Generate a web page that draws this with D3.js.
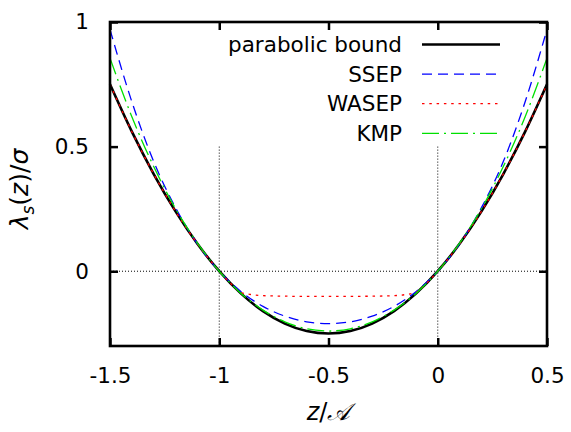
<!DOCTYPE html>
<html>
<head>
<meta charset="utf-8">
<script src="https://cdn.jsdelivr.net/npm/d3@7"></script>
<style>
  html, body { margin: 0; padding: 0; background: #fff; }
  svg { display: block; }
  text { font-family: "DejaVu Sans", sans-serif; fill: #000; }
</style>
</head>
<body>
<script>
// Scaled cumulant generating functions against z/A
const zGrid = [-1.5, -1.4, -1.3, -1.2, -1.1, -1.0, -0.9, -0.8, -0.7, -0.6, -0.5,
               -0.4, -0.3, -0.2, -0.1, 0.0, 0.1, 0.2, 0.3, 0.4, 0.5];
const parabolic = [0.75, 0.56, 0.39, 0.24, 0.11, 0.0, -0.09, -0.16, -0.21, -0.24, -0.25,
                   -0.24, -0.21, -0.16, -0.09, 0.0, 0.11, 0.24, 0.39, 0.56, 0.75];
const ssep = [0.97, 0.68, 0.44, 0.255, 0.11, 0.0, -0.082, -0.141, -0.18, -0.203, -0.21,
              -0.203, -0.18, -0.141, -0.082, 0.0, 0.11, 0.255, 0.44, 0.68, 0.97];
const kmp = [0.855, 0.62, 0.42, 0.251, 0.113, 0.0, -0.089, -0.156, -0.203, -0.231, -0.24,
             -0.231, -0.203, -0.156, -0.089, 0.0, 0.113, 0.251, 0.42, 0.62, 0.855];
const wasepZ = [-1.5, -1.4, -1.3, -1.2, -1.1, -1.0, -0.95, -0.9, -0.85, -0.8, -0.7, -0.6, -0.5,
                -0.4, -0.3, -0.2, -0.15, -0.1, -0.05, 0.0, 0.1, 0.2, 0.3, 0.4, 0.5];
const wasep = [0.75, 0.56, 0.39, 0.24, 0.11, 0.0, -0.047, -0.085, -0.094, -0.098, -0.1, -0.101, -0.101,
               -0.101, -0.1, -0.098, -0.094, -0.085, -0.047, 0.0, 0.11, 0.24, 0.39, 0.56, 0.75];

const xTicks = [-1.5, -1, -0.5, 0, 0.5];
const xTickLabels = ["-1.5", "-1", "-0.5", "0", "0.5"];
const yTicks = [0, 0.5, 1];
const yTickLabels = ["0", "0.5", "1"];

const series = [
  { name: "parabolic bound", x: zGrid, y: parabolic, color: "#000000", width: 2.6, dash: null },
  { name: "SSEP", x: zGrid, y: ssep, color: "#0000ff", width: 1.3, dash: "10,6" },
  { name: "WASEP", x: wasepZ, y: wasep, color: "#ff0000", width: 1.3, dash: "2.5,4.8" },
  { name: "KMP", x: zGrid, y: kmp, color: "#00e000", width: 1.3, dash: "17,5,2,5" }
];

const W = 571, H = 432;
const margin = { top: 22, right: 24, bottom: 86, left: 110 };
const iw = W - margin.left - margin.right;
const ih = H - margin.top - margin.bottom;

const svg = d3.select("body").append("svg").attr("width", W).attr("height", H);
const g = svg.append("g").attr("transform", `translate(${margin.left},${margin.top})`);

const x = d3.scaleLinear().domain([-1.5, 0.5]).range([0, iw]);
const y = d3.scaleLinear().domain([-0.3, 1]).range([ih, 0]);

// dotted reference lines
g.append("line")
  .attr("x1", 0).attr("x2", iw).attr("y1", y(0)).attr("y2", y(0))
  .attr("stroke", "#000").attr("stroke-width", 1).attr("stroke-dasharray", "1,2");
[-1, 0].forEach(v => {
  g.append("line")
    .attr("x1", x(v)).attr("x2", x(v)).attr("y1", y(0.5)).attr("y2", ih)
    .attr("stroke", "#000").attr("stroke-width", 1).attr("stroke-dasharray", "1,2");
});

// curves
const line = d3.line().curve(d3.curveMonotoneX);
series.forEach(s => {
  const pts = s.x.map((v, i) => [x(v), y(s.y[i])]);
  g.append("path")
    .attr("d", line(pts))
    .attr("fill", "none")
    .attr("stroke", s.color)
    .attr("stroke-width", s.width)
    .attr("stroke-dasharray", s.dash);
});

// axes: ticks on all four sides, labels on left and bottom
const tickLen = 8;
const xb = g.append("g").attr("transform", `translate(0,${ih})`)
  .call(d3.axisBottom(x).tickValues(xTicks).tickSizeInner(-tickLen).tickSizeOuter(0)
    .tickFormat((d, i) => xTickLabels[i]).tickPadding(22));
const xt = g.append("g")
  .call(d3.axisTop(x).tickValues(xTicks).tickSizeInner(-tickLen).tickSizeOuter(0).tickFormat(""));
const yl = g.append("g")
  .call(d3.axisLeft(y).tickValues(yTicks).tickSizeInner(-tickLen).tickSizeOuter(0)
    .tickFormat((d, i) => yTickLabels[i]).tickPadding(21));
const yr = g.append("g").attr("transform", `translate(${iw},0)`)
  .call(d3.axisRight(y).tickValues(yTicks).tickSizeInner(-tickLen).tickSizeOuter(0).tickFormat(""));
[xb, xt, yl, yr].forEach(a => {
  a.select(".domain").remove();
  a.selectAll("line").attr("stroke", "#000").attr("stroke-width", 2.5);
  a.selectAll("text").attr("font-size", 21.5).attr("font-family", "DejaVu Sans");
});

// frame
g.append("rect").attr("x", 0).attr("y", 0).attr("width", iw).attr("height", ih)
  .attr("fill", "none").attr("stroke", "#000").attr("stroke-width", 2.6);

// legend
const legend = g.append("g");
series.forEach((s, i) => {
  const ly = 22.5 + i * 29.6;
  legend.append("text")
    .attr("x", 292).attr("y", ly).attr("dy", "0.35em")
    .attr("text-anchor", "end").attr("font-size", 21.5)
    .text(s.name);
  legend.append("line")
    .attr("x1", 312).attr("x2", 390).attr("y1", ly).attr("y2", ly)
    .attr("stroke", s.color).attr("stroke-width", s.width)
    .attr("stroke-dasharray", s.dash);
});

// axis titles
const xLabel = svg.append("text")
  .attr("x", margin.left + x(-0.5)).attr("y", 420)
  .attr("text-anchor", "middle").attr("font-size", 24);
xLabel.append("tspan").attr("font-style", "italic").text("z");
xLabel.append("tspan").text("/");
xLabel.append("tspan").attr("font-style", "italic").text("\u{1D49C}");

const yLabel = svg.append("text")
  .attr("transform", `translate(28,189) rotate(-90)`)
  .attr("text-anchor", "middle").attr("font-size", 25);
yLabel.append("tspan").attr("font-style", "italic").text("λ");
yLabel.append("tspan").attr("font-style", "italic").attr("font-size", 17).attr("dy", 6).text("s");
yLabel.append("tspan").attr("dy", -6).text("(");
yLabel.append("tspan").attr("font-style", "italic").text("z");
yLabel.append("tspan").text(")/");
yLabel.append("tspan").attr("font-style", "italic").text("σ");
</script>
</body>
</html>
